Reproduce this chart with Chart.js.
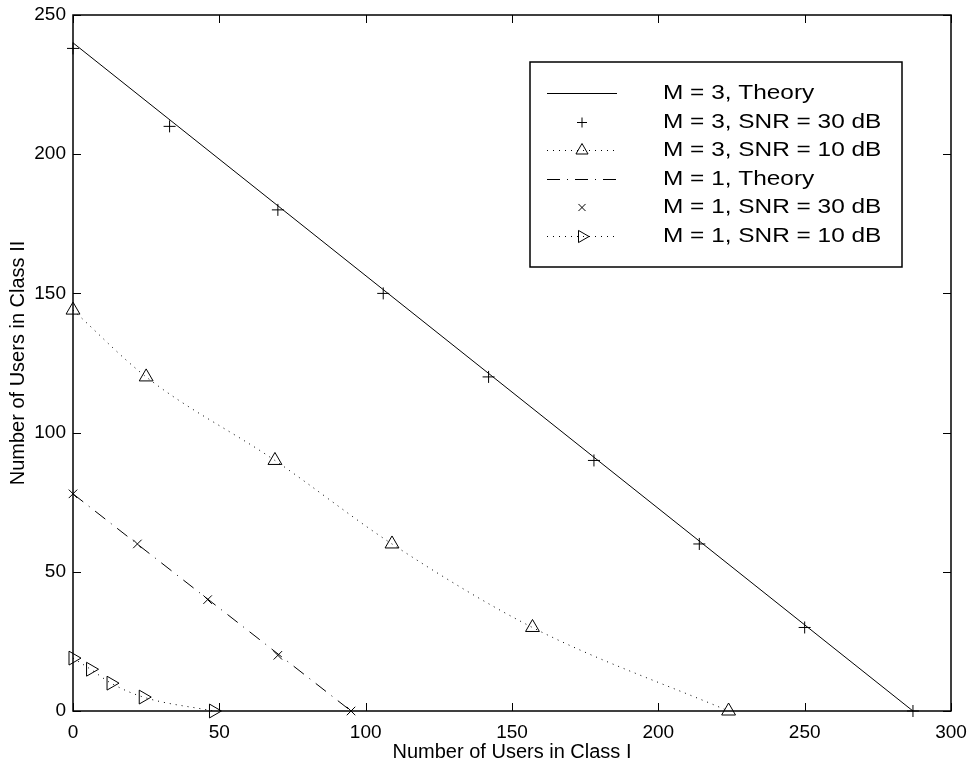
<!DOCTYPE html>
<html>
<head>
<meta charset="utf-8">
<title>Users in Class I vs Class II</title>
<script src="https://cdn.jsdelivr.net/npm/chart.js@4.4.1/dist/chart.umd.min.js"></script>
<style>
  html, body { margin: 0; padding: 0; background: #fff; }
  canvas { display: block; }
</style>
</head>
<body>
<canvas id="canvas" width="972" height="767"></canvas>
<script>
// axis ticks
const xTicks = [0, 50, 100, 150, 200, 250, 300];
const yTicks = [0, 50, 100, 150, 200, 250];

// M = 3
const m3TheoryX = [0, 287];
const m3TheoryY = [240, 0];
const m3Snr30X = [0, 33, 70, 106, 142, 178, 214, 250, 287];
const m3Snr30Y = [238, 210, 180, 150, 120, 90, 60, 30, 0];
const m3Snr10X = [0, 25, 69, 109, 157, 224];
const m3Snr10Y = [144, 120, 90, 60, 30, 0];

// M = 1
const m1TheoryX = [0, 95];
const m1TheoryY = [78, 0];
const m1Snr30X = [0, 22, 46, 70, 95];
const m1Snr30Y = [78, 60, 40, 20, 0];
const m1Snr10X = [0, 6, 13, 24, 48];
const m1Snr10Y = [19, 15, 10, 5, 0];

const seriesLabels = [
  'M = 3, Theory',
  'M = 3, SNR = 30 dB',
  'M = 3, SNR = 10 dB',
  'M = 1, Theory',
  'M = 1, SNR = 30 dB',
  'M = 1, SNR = 10 dB'
];

const pts = (xs, ys) => xs.map((x, i) => ({ x: x, y: ys[i] }));

Chart.defaults.font.family = '"Liberation Sans", Arial, Helvetica, sans-serif';
Chart.defaults.color = '#000';

const DOTTED = [1, 5];
const DASHDOT = [13, 7, 1, 7];

const base = {
  borderColor: '#000',
  borderWidth: 1,
  pointBorderColor: '#000',
  pointBackgroundColor: 'rgba(0,0,0,0)',
  pointBorderWidth: 1,
  clip: false
};

const datasets = [
  Object.assign({}, base, { label: seriesLabels[0], data: pts(m3TheoryX, m3TheoryY), pointRadius: 0 }),
  Object.assign({}, base, { label: seriesLabels[1], data: pts(m3Snr30X, m3Snr30Y), showLine: false, pointStyle: 'cross', pointRadius: 6 }),
  Object.assign({}, base, { label: seriesLabels[2], data: pts(m3Snr10X, m3Snr10Y), borderDash: DOTTED, cubicInterpolationMode: 'monotone', pointStyle: 'triangle', pointRadius: 8 }),
  Object.assign({}, base, { label: seriesLabels[3], data: pts(m1TheoryX, m1TheoryY), borderDash: DASHDOT, pointRadius: 0 }),
  Object.assign({}, base, { label: seriesLabels[4], data: pts(m1Snr30X, m1Snr30Y), showLine: false, pointStyle: 'crossRot', pointRadius: 6 }),
  Object.assign({}, base, { label: seriesLabels[5], data: pts(m1Snr10X, m1Snr10Y), borderDash: DOTTED, cubicInterpolationMode: 'monotone', pointStyle: 'triangle', pointRotation: 90, pointRadius: 8 })
];

// box around the plot with inward ticks on all four sides
const frame = {
  id: 'frame',
  beforeDatasetsDraw(chart) {
    const { ctx, chartArea: a, scales } = chart;
    const tick = 8;
    ctx.save();
    ctx.strokeStyle = '#000';
    ctx.lineWidth = 1;
    ctx.beginPath();
    xTicks.forEach(v => {
      const px = Math.round(scales.x.getPixelForValue(v)) + 0.5;
      ctx.moveTo(px, a.bottom); ctx.lineTo(px, a.bottom - tick);
      ctx.moveTo(px, a.top); ctx.lineTo(px, a.top + tick);
    });
    yTicks.forEach(v => {
      const py = Math.round(scales.y.getPixelForValue(v)) + 0.5;
      ctx.moveTo(a.left, py); ctx.lineTo(a.left + tick, py);
      ctx.moveTo(a.right, py); ctx.lineTo(a.right - tick, py);
    });
    ctx.stroke();
    ctx.lineWidth = 1.5;
    ctx.strokeRect(a.left, a.top, a.right - a.left, a.bottom - a.top);
    ctx.restore();
  }
};

// legend box in the upper right, line sample + marker + label
const legendBox = {
  id: 'legendBox',
  afterDraw(chart) {
    const ctx = chart.ctx;
    const box = { left: 530, top: 62, right: 902, bottom: 267 };
    ctx.save();
    ctx.fillStyle = '#fff';
    ctx.fillRect(box.left, box.top, box.right - box.left, box.bottom - box.top);
    ctx.strokeStyle = '#000';
    ctx.lineWidth = 1.5;
    ctx.strokeRect(box.left, box.top, box.right - box.left, box.bottom - box.top);

    chart.data.datasets.forEach((ds, i) => {
      const yy = Math.round(93 + i * 28.6) + 0.5;
      ctx.strokeStyle = '#000';
      ctx.lineWidth = 1;
      if (ds.showLine !== false) {
        ctx.setLineDash(ds.borderDash || []);
        ctx.beginPath();
        ctx.moveTo(547, yy);
        ctx.lineTo(617, yy);
        ctx.stroke();
        ctx.setLineDash([]);
      }
      if (ds.pointRadius > 0) {
        ctx.fillStyle = 'rgba(0,0,0,0)';
        Chart.helpers.drawPoint(ctx, {
          pointStyle: ds.pointStyle,
          rotation: ds.pointRotation || 0,
          radius: ds.pointRadius - 1,
          borderWidth: 1
        }, 582, yy);
      }
      ctx.fillStyle = '#000';
      ctx.font = '20px "Liberation Sans", Arial, sans-serif';
      ctx.textBaseline = 'middle';
      ctx.save();
      ctx.translate(663, yy);
      ctx.scale(1.22, 1);
      ctx.fillText(ds.label, 0, 0);
      ctx.restore();
    });
    ctx.restore();
  }
};

new Chart(document.getElementById('canvas'), {
  type: 'line',
  data: { datasets: datasets },
  options: {
    responsive: false,
    animation: false,
    layout: { padding: { top: 15, right: 21, left: 0, bottom: 0 } },
    plugins: {
      legend: { display: false },
      tooltip: { enabled: false }
    },
    scales: {
      x: {
        type: 'linear',
        min: 0,
        max: 300,
        grid: { display: false, drawTicks: false },
        border: { display: false },
        afterBuildTicks: s => { s.ticks = xTicks.map(v => ({ value: v })); },
        afterFit: s => { s.height = 56; s.paddingLeft = 0; s.paddingRight = 0; },
        ticks: { padding: 10, font: { size: 19 }, maxRotation: 0 },
        title: { display: true, text: 'Number of Users in Class I', font: { size: 20 }, padding: { top: 0, bottom: 3 } }
      },
      y: {
        type: 'linear',
        min: 0,
        max: 250,
        grid: { display: false, drawTicks: false },
        border: { display: false },
        afterBuildTicks: s => { s.ticks = yTicks.map(v => ({ value: v })); },
        afterFit: s => { s.width = 73; s.paddingTop = 0; s.paddingBottom = 0; },
        ticks: { padding: 7, font: { size: 19 } },
        title: { display: true, text: 'Number of Users in Class II', font: { size: 20 }, padding: { top: 6, bottom: 0 } }
      }
    }
  },
  plugins: [frame, legendBox]
});
</script>
</body>
</html>
